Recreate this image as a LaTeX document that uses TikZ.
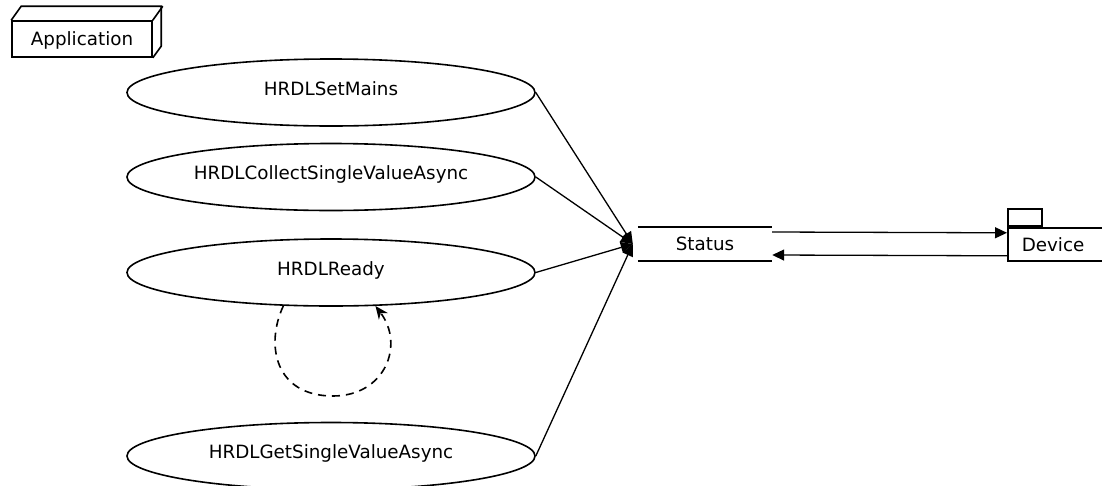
\documentclass[tikz,border=0pt]{standalone}
\usepackage{fontspec}
\setmainfont{DejaVu Sans}
\usetikzlibrary{arrows.meta,shapes.geometric}
\begin{document}
\begin{tikzpicture}[x=1pt,y=-1pt,
  font=\fontsize{18.3}{22}\selectfont,
  usecase/.style={draw, ellipse, line width=1.6pt, minimum width=408pt, minimum height=67pt, inner sep=0pt, text height=13pt, text depth=8pt},
  boxline/.style={line width=1.6pt},
  conn/.style={line width=1.3pt},
  arr/.style={-{Triangle[length=12pt,width=11pt]}},
  loopdash/.style={line width=1.6pt, dash pattern=on 8pt off 6pt}]
\fill[white] (0,0) rectangle (1102,485);
\useasboundingbox (0,0) rectangle (1102,485);

% Application node (3D box)
\node[draw, boxline, minimum width=140pt, minimum height=36pt, inner sep=0pt, text depth=0pt] (app) at (82,39) {Application};
\draw[boxline] (app.north west) -- ++(10,-14) -- ++(140,0) -- ++(0,40) -- (app.south east);
\draw[boxline] (app.north east) -- ++(10,-14);

% use cases
\node[usecase] (e1) at (331,92.5) {HRDLSetMains};
\node[usecase] (e2) at (331,177) {HRDLCollectSingleValueAsync};
\node[usecase] (e3) at (331,272.5) {HRDLReady};
\node[usecase] (e4) at (331,456) {HRDLGetSingleValueAsync};

% Status
\node[minimum width=134pt, minimum height=34pt, inner sep=0pt] (status) at (705,244) {Status};
\draw[boxline] (status.north west) -- (status.north east);
\draw[boxline] (status.south west) -- (status.south east);

% Device package
\node[draw, boxline, anchor=north west, minimum height=33pt, text width=110pt, inner xsep=14pt, inner ysep=0pt, align=left] (device) at (1007,227) {Device};
\node[draw, boxline, anchor=south west, minimum width=34pt, minimum height=17pt, inner sep=0pt] (tab) at (device.north west) {};

% connectors to Status
\draw[conn, arr] (e1.east) -- ([xshift=-5pt]status.west);
\draw[conn, arr] (e2.east) -- ([xshift=-5pt]status.west);
\draw[conn, arr] (e3.east) -- ([xshift=-5pt]status.west);
\draw[conn, arr] (e4.east) -- ([xshift=-5pt]status.west);

% Status <-> Device
\draw[conn, arr] ([yshift=12pt]status.east) -- ([yshift=11.5pt]device.west);
\draw[conn, arr] ([yshift=-11.5pt]device.west) -- ([yshift=-11pt]status.east);

% self loop on HRDLReady
\draw[loopdash, -{Stealth[length=13pt,width=11pt]}] (e3.215) .. controls (265,345) and (275,396) .. (333,396) .. controls (385,396) and (405,345) .. (e3.323);
\end{tikzpicture}
\end{document}
